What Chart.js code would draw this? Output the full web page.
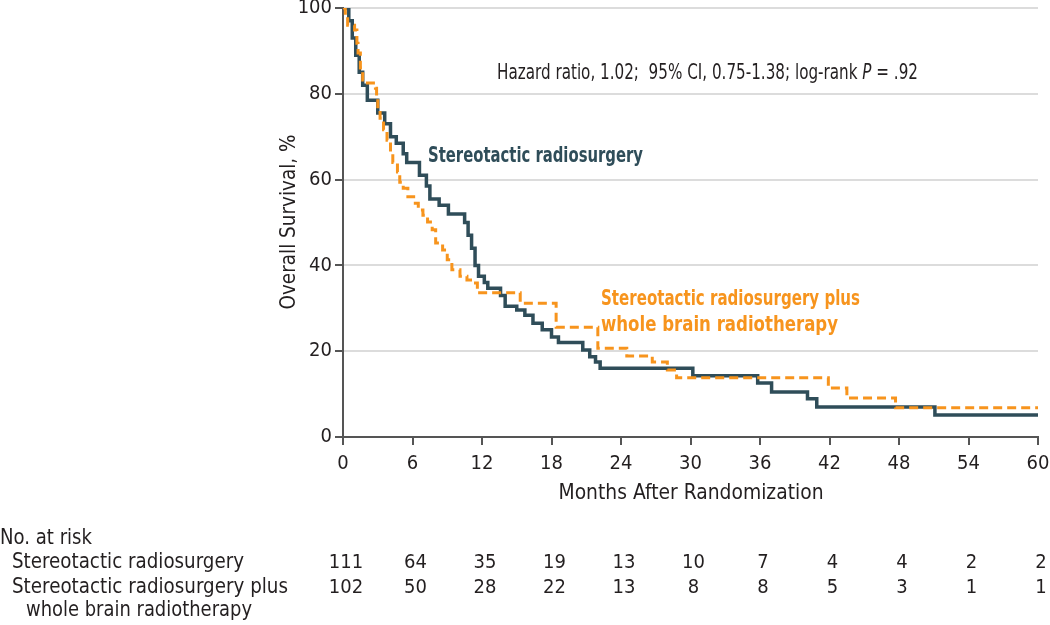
<!DOCTYPE html>
<html lang="en">
<head>
  <meta charset="UTF-8" />
  <title>Overall survival</title>
  <style>
    body { margin: 0; background: #fff; }
    #wrap { position: relative; width: 1050px; height: 625px; }
  </style>
</head>
<body>
  <div id="wrap"><canvas id="km"></canvas></div>
  <script src="https://cdn.jsdelivr.net/npm/chart.js"></script>
  <script>
    // step points: at month m the survival drops to value s
    const srsMonths = [0, 0.5, 0.8, 1.1, 1.4, 1.7, 2.1, 3.0, 3.6, 4.1, 4.6, 5.2, 5.5, 6.6, 7.2, 7.5, 8.3, 9.1,
      10.5, 10.8, 11.1, 11.4, 11.7, 12.2, 12.5, 13.6, 14.0, 15.0, 15.7, 16.4, 17.2, 18.0, 18.6, 20.7, 21.3, 21.8,
      22.2, 30.2, 35.8, 37.0, 40.1, 40.9, 51.1, 60];
    const srsSurvival = [100, 97, 93, 89, 85, 82, 78.5, 75.5, 73, 70, 68.5, 66, 64, 61, 58.5, 55.5, 54, 52,
      50, 47, 44, 40, 37.5, 36, 34.7, 33, 30.5, 29.6, 28.4, 26.5, 25, 23.3, 22, 20.3, 18.7, 17.5,
      16, 14.3, 12.6, 10.5, 8.9, 7, 5.1, 5.1];

    const wbrtMonths = [0, 0.2, 0.4, 1.0, 1.2, 1.3, 1.5, 1.7, 1.9, 2.8, 2.9, 3.0, 3.2, 3.5, 3.8, 4.1, 4.3, 4.7,
      4.9, 5.2, 5.6, 6.1, 6.5, 6.9, 7.3, 7.7, 8.0, 8.6, 9.0, 9.4, 10.1, 10.7, 11.2, 11.6, 15.3, 18.4, 22.0,
      24.5, 26.7, 28.0, 28.8, 41.9, 43.5, 47.7, 60];
    const wbrtSurvival = [100, 98.8, 96, 94.9, 91.8, 89.5, 86, 83.2, 82.5, 81.3, 79, 77, 74.3, 71.6, 69.2, 66.2, 64, 61.8,
      59.4, 58, 56, 54.5, 52.9, 51.7, 50.1, 48.3, 45.2, 43.6, 41.3, 39, 37.5, 36.6, 35.9, 33.6, 31.2, 25.6, 20.7,
      18.9, 17.5, 15.6, 13.8, 11.4, 9.1, 6.8, 6.8];

    const riskMonths = [0, 6, 12, 18, 24, 30, 36, 42, 48, 54, 60];
    const srsAtRisk = [111, 64, 35, 19, 13, 10, 7, 4, 4, 2, 2];
    const wbrtAtRisk = [102, 50, 28, 22, 13, 8, 8, 5, 3, 1, 1];

    const TEAL = '#2f4d59';
    const ORANGE = '#f7941d';
    const INK = '#231f20';
    const FONT = "'DejaVu Sans Condensed', 'DejaVu Sans', sans-serif";

    const toPoints = (xs, ys) => xs.map((x, i) => ({ x, y: ys[i] }));

    // draws text squeezed to a given width (the original uses a condensed face)
    function fitText(ctx, parts, x, y, width, align) {
      let total = 0;
      parts.forEach(p => { ctx.font = p.font; total += ctx.measureText(p.t).width; });
      const k = width / total;
      const x0 = align === 'center' ? x - width / 2 : x;
      ctx.save();
      ctx.translate(x0, y);
      ctx.scale(k, 1);
      ctx.textAlign = 'left';
      ctx.textBaseline = 'middle';
      let cx = 0;
      parts.forEach(p => {
        ctx.font = p.font;
        ctx.fillText(p.t, cx, 0);
        cx += ctx.measureText(p.t).width;
      });
      ctx.restore();
    }

    const textPlugin = {
      id: 'kmText',
      afterDraw(chart) {
        const { ctx } = chart;
        const xs = chart.scales.x;
        const reg = `21px ${FONT}`;
        ctx.save();

        ctx.fillStyle = INK;
        fitText(ctx, [
          { t: 'Hazard ratio, 1.02;  95% CI, 0.75-1.38; log-rank ', font: reg },
          { t: 'P', font: `italic 21px ${FONT}` },
          { t: ' = .92', font: reg }
        ], 497, 74, 421);

        ctx.fillStyle = TEAL;
        fitText(ctx, [{ t: 'Stereotactic radiosurgery', font: `bold 21px ${FONT}` }], 428, 157, 215);
        ctx.fillStyle = ORANGE;
        fitText(ctx, [{ t: 'Stereotactic radiosurgery plus', font: `bold 21px ${FONT}` }], 601, 300, 259);
        fitText(ctx, [{ t: 'whole brain radiotherapy', font: `bold 21px ${FONT}` }], 601, 326, 237);

        ctx.fillStyle = INK;
        fitText(ctx, [{ t: 'Months After Randomization', font: reg }], 691, 494, 265, 'center');
        ctx.save();
        ctx.translate(290, 222);
        ctx.rotate(-Math.PI / 2);
        fitText(ctx, [{ t: 'Overall Survival, %', font: reg }], 0, 0, 175, 'center');
        ctx.restore();

        // number at risk table
        fitText(ctx, [{ t: 'No. at risk', font: reg }], 0, 539, 92);
        fitText(ctx, [{ t: 'Stereotactic radiosurgery', font: reg }], 12, 563, 232);
        fitText(ctx, [{ t: 'Stereotactic radiosurgery plus', font: reg }], 12, 588, 276);
        fitText(ctx, [{ t: 'whole brain radiotherapy', font: reg }], 26, 611, 226);

        ctx.font = `20px ${FONT}`;
        ctx.textAlign = 'center';
        ctx.textBaseline = 'middle';
        riskMonths.forEach((m, i) => {
          const px = xs.getPixelForValue(m) + 3;
          ctx.fillText(String(srsAtRisk[i]), px, 563);
          ctx.fillText(String(wbrtAtRisk[i]), px, 588);
        });
        ctx.restore();
      }
    };

    new Chart(document.getElementById('km').getContext('2d'), {
      type: 'line',
      data: {
        datasets: [
          {
            label: 'Stereotactic radiosurgery plus whole brain radiotherapy',
            data: toPoints(wbrtMonths, wbrtSurvival),
            borderColor: ORANGE,
            borderWidth: 3,
            borderDash: [9, 5],
            stepped: 'before',
            pointRadius: 0,
            fill: false
          },
          {
            label: 'Stereotactic radiosurgery',
            data: toPoints(srsMonths, srsSurvival),
            borderColor: TEAL,
            borderWidth: 3.5,
            stepped: 'before',
            pointRadius: 0,
            fill: false
          }
        ]
      },
      options: {
        responsive: true,
        maintainAspectRatio: false,
        animation: false,
        layout: { padding: 0 },
        plugins: {
          legend: { display: false },
          tooltip: { enabled: false }
        },
        scales: {
          x: {
            type: 'linear',
            min: 0,
            max: 60,
            afterFit: s => { s.height = 188; s.paddingLeft = 0; s.paddingRight = 12; },
            border: { color: '#555', width: 2 },
            grid: { drawOnChartArea: false, tickLength: 8, tickColor: '#555', lineWidth: 2 },
            ticks: { stepSize: 6, color: INK, padding: 7, font: { family: FONT, size: 20 } }
          },
          y: {
            min: 0,
            max: 100,
            afterFit: s => { s.width = 343; s.paddingTop = 8; s.paddingBottom = 0; },
            border: { color: '#555', width: 2 },
            grid: { color: '#dcdcdc', lineWidth: 2, tickLength: 8, tickColor: '#555' },
            ticks: { stepSize: 20, color: INK, padding: 3, font: { family: FONT, size: 20 } }
          }
        }
      },
      plugins: [textPlugin]
    });
  </script>
</body>
</html>
